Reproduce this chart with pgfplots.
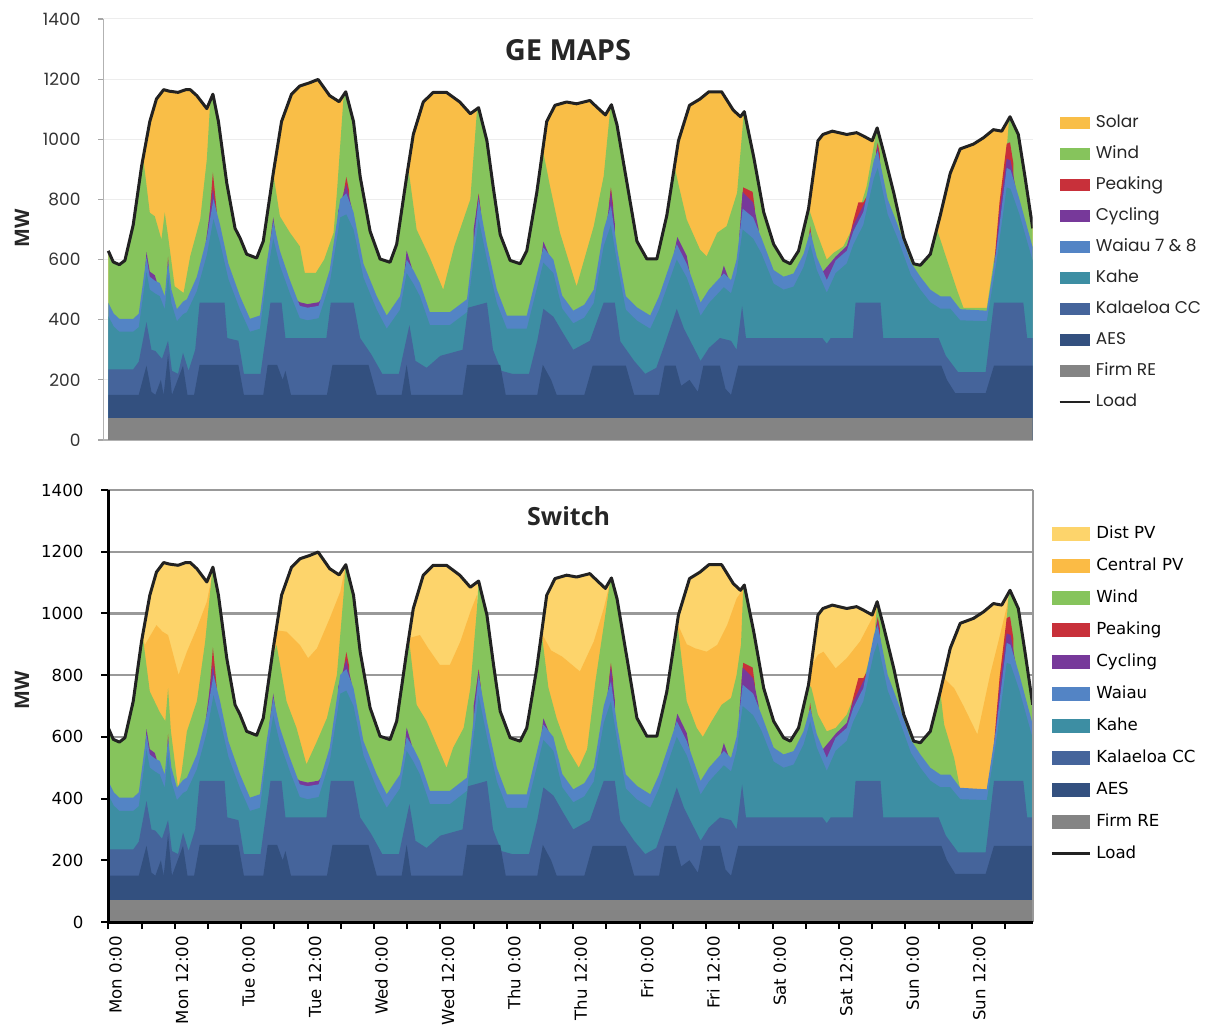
\documentclass[border=0pt]{standalone}
\usepackage{fontspec}
\setmainfont{DejaVu Sans}
\newfontfamily\topfont{Poppins}
\newfontfamily\ttlfont{Open Sans}
\usepackage{pgfplots}
\pgfplotsset{compat=1.18}
\usepackage{pgfplotstable}

\definecolor{solarc}{HTML}{F9BE47}
\definecolor{distc}{HTML}{FDD46B}
\definecolor{centc}{HTML}{FBBB45}
\definecolor{windc}{HTML}{86C45C}
\definecolor{peakc}{HTML}{C8303A}
\definecolor{cycc}{HTML}{77399A}
\definecolor{waic}{HTML}{5384C5}
\definecolor{kahec}{HTML}{3D8EA3}
\definecolor{kalc}{HTML}{45649B}
\definecolor{aesc}{HTML}{33507F}
\definecolor{firmc}{HTML}{848484}
\definecolor{loadc}{HTML}{222222}

\pgfplotsset{
  arealegA/.style={legend image code/.code={\fill[##1] (0pt,-3pt) rectangle (15pt,3pt);}},
  linelegA/.style={legend image code/.code={\draw[##1, line width=1.2pt] (0pt,0pt) -- (15pt,0pt);}},
  arealegB/.style={legend image code/.code={\fill[##1] (0pt,-3.5pt) rectangle (19pt,3.5pt);}},
  linelegB/.style={legend image code/.code={\draw[##1, line width=1.5pt] (0pt,0pt) -- (19pt,0pt);}},
}

\pgfplotstableread{
x y
0 629
0.9 592
2 583
3 597
4.5 715
6 909
7.5 1059
8.7 1134
10 1165
11 1160
12.6 1156
14 1165
14.8 1165
16 1145
17.8 1102
18.9 1150
19.9 1059
21.4 855
22.9 704
23.8 672
25 618
26.8 605
28 661
29.8 887
31.3 1059
33.1 1150
34.6 1177
36.4 1188
37.9 1199
40 1145
41.7 1125
42.9 1158
44.3 1059
45.5 876
47.3 694
49.1 602
50.9 591
52.1 651
53.9 876
55.1 1016
56.9 1124
58.7 1156
61.1 1156
63.5 1124
65.4 1085
66.9 1105
68.4 995
69.6 833
70.8 683
72.6 597
74.4 586
75.6 629
77.4 822
79.2 1059
80.7 1113
82.8 1124
84.6 1118
87 1129
88.2 1108
89.8 1081
90.9 1115
91.9 1048
93.7 855
95.5 661
97.3 602
99.1 602
100.9 747
103 995
105 1113
106.9 1134
108.5 1158
110.8 1158
112.9 1097
114.2 1075
114.9 1092
116.6 941
118.4 758
120.2 651
122 597
123.2 586
124.7 629
126.5 769
128.2 995
129.1 1016
130.8 1027
133.4 1016
135.2 1022
136.4 1011
138 995
138.9 1038
140 962
141.9 822
143.7 672
145.5 586
146.7 581
148.5 618
150.3 747
152.1 887
153.9 968
156.3 984
158.1 1005
159.9 1032
161.4 1027
162.9 1075
164.4 1016
165.6 876
167 704
}\loadT

\pgfplotstableread{
x y
0 629
0.9 592
2 583
3 597
4.5 715
6 909
6.3 940
7.5 756
8.4 744
9.6 667
10.2 756
10.8 678
12 511
13.6 489
14.8 611
16.6 733
17.8 933
18.4 1120
18.9 1150
19.9 1059
21.4 855
22.9 704
23.8 672
25 618
26.8 605
28 661
29.8 887
31 744
32.8 690
34.6 644
35.5 556
37.5 556
39 600
40.7 689
41.3 822
42.5 1140
42.9 1158
44.3 1059
45.5 876
47.3 694
49.1 602
50.9 591
52.1 651
53.9 876
54.2 905
55.7 700
58 610
60.5 500
62.5 644
65.4 800
66.6 1095
66.9 1105
68.4 995
69.6 833
70.8 683
72.6 597
74.4 586
75.6 629
77.4 822
78.5 965
79.8 844
81.6 689
84.6 511
87.7 711
89.5 878
90.7 1105
90.9 1115
91.9 1048
93.7 855
95.5 661
97.3 602
99.1 602
100.9 747
102.3 910
103 850
104.5 733
106.9 633
108.1 611
110 689
111.7 711
113.6 822
114.8 1088
114.9 1092
116.6 941
118.4 758
120.2 651
122 597
123.2 586
124.7 629
126.5 769
126.8 756
128 689
129.8 600
131 622
132.8 644
135.2 733
137 844
138.6 1011
138.9 1038
140 962
141.9 822
143.7 672
145.5 586
146.7 581
148.5 618
149.7 700
151.5 600
153.3 500
154.5 439
158.7 439
160 600
161.2 711
162.7 1060
162.9 1075
164.4 1016
165.6 876
167 704
}\windA

\pgfplotstableread{
x y
0 629
0.9 592
2 583
3 597
4.5 715
6 909
6.2 929
7.5 747
9.3 680
10.3 651
10.8 758
11.3 620
12.6 435
13.2 480
14.2 618
16 715
17.5 909
18.7 1125
18.9 1150
19.9 1059
21.4 855
22.9 704
23.8 672
25 618
26.8 605
28 661
29.5 849
30.4 898
32.2 715
34 629
35.8 511
37.7 586
39.5 661
41.3 801
42.5 1059
42.8 1150
42.9 1158
44.3 1059
45.5 876
47.3 694
49.1 602
50.9 591
52.1 651
53.9 876
54.3 920
55.7 704
57.5 651
59.3 575
61.1 500
62.3 565
64.2 629
65.4 758
66.6 1016
66.9 1105
68.4 995
69.6 833
70.8 683
72.6 597
74.4 586
75.6 629
77.4 822
78.3 935
79.5 760
81 660
83 560
85 500
86.5 560
88 780
89.5 960
90.6 1098
90.9 1115
91.9 1048
93.7 855
95.5 661
97.3 602
99.1 602
100.9 747
102.8 968
104.5 715
106.3 629
107.4 600
109 651
110.8 704
112.5 726
113.5 800
114.3 900
114.7 1080
114.9 1092
116.6 941
118.4 758
120.2 651
122 597
123.2 586
124.7 629
126.5 769
127 760
128.2 672
129.8 618
131.4 629
133.4 672
134.6 726
136.4 780
138.3 909
138.9 1030
140 962
141.9 822
143.7 672
145.5 586
146.7 581
148.5 618
150.3 747
151 640
152.8 532
153.9 430
158.7 430
160 565
161 694
162 909
162.6 1050
162.9 1075
164.4 1016
165.6 876
167 704
}\windB

\pgfplotstableread{
x y
0 0
6.0 0
6.2 929
6.6 898
8.7 962
9.8 941
10.8 930
12.7 801
14.2 876
16 952
17.8 1038
18.7 1120
18.9 0
29.3 0
29.5 849
30.4 945
32.2 941
34.6 898
36.1 855
37.7 887
40 984
41.9 1070
42.8 1150
42.95 0
54.1 0
54.3 920
56.3 930
57.8 887
59.9 833
61.7 833
63.6 909
65.4 1005
66.6 1060
66.8 0
78.1 0
78.3 935
80 880
82 860
84 830
85.2 812
87.7 909
89.5 1016
90.6 1098
90.75 0
102.6 0
102.8 968
104.5 900
106 887
108.1 876
110 898
111.8 962
113.5 1048
114.7 1080
114.85 0
126.3 0
126.5 769
127 830
128.2 866
129.2 876
131.4 822
133.4 855
135.8 909
138.3 995
138.9 1030
139.05 0
150.1 0
150.3 747
151 790
152.8 758
154.5 700
157 608
159.3 801
160.8 909
162.3 1020
162.6 1050
162.75 0
167 0
}\centT

\pgfplotstableread{
x y
0 0
10.3 0
10.35 470
10.8 610
11.2 480
11.25 0
17.9 0
18.0 680
18.9 890
19.6 760
19.65 0
42.4 0
42.5 820
43.0 875
43.5 830
43.55 0
66.4 0
66.5 760
66.9 820
67.3 760
67.35 0
90.4 0
90.5 790
90.8 840
91.2 780
91.25 0
114.3 0
114.4 780
114.7 840
116.4 825
116.8 770
116.85 0
126.2 0
126.3 640
126.8 710
127.3 640
127.35 0
133.5 0
133.6 650
134.6 730
135.5 790
136.4 790
137.0 810
137.05 0
138.6 0
138.7 960
139.0 988
139.4 950
139.45 0
159.9 0
160.0 575
161.0 790
162.3 985
162.9 990
163.5 920
163.55 0
167 0
}\peakT

\pgfplotstableread{
x y
0 0
6.0 0
6.1 430
6.9 625
7.5 560
8.4 548
9.2 500
9.25 0
17.4 0
17.5 640
18.9 835
20.0 700
20.05 0
29.0 0
29.1 640
29.8 740
30.6 640
30.65 0
33.5 0
33.6 470
34.6 458
36.0 452
38.0 458
39.0 480
39.05 0
41.4 0
41.5 760
43.0 850
44.0 770
44.05 0
53.3 0
53.4 540
53.9 630
54.8 575
54.85 0
65.9 0
66.0 700
66.9 815
67.7 700
67.75 0
78.1 0
78.2 600
78.6 660
79.5 620
79.55 0
90.1 0
90.2 740
90.8 830
91.5 720
91.55 0
102.1 0
102.2 620
102.8 675
104.5 612
105.0 560
105.05 0
110.5 0
110.6 540
111.2 580
112.0 540
112.05 0
113.9 0
114.0 680
114.6 825
116.5 790
117.5 700
117.55 0
129.0 0
129.1 560
130.5 590
131.4 610
133.4 645
134.6 715
136.4 780
137.0 800
137.05 0
138.4 0
138.5 935
139.0 975
139.6 900
139.65 0
159.9 0
160.0 560
161.0 760
162.3 935
163.0 930
164.0 830
164.05 0
167 0
}\cycT

\pgfplotstableread{
x y
0 457
1 420
2 403
4.5 403
5.5 420
6.9 608
7.5 543
8.4 530
9.3 522
10.2 478
10.8 597
11.4 500
12.4 435
13.5 460
14.2 468
16 543
17.8 672
19 801
20.2 715
21.7 586
23.8 478
25.6 403
27.4 414
28.6 586
29.8 726
31 629
32.8 532
34.6 446
36 440
38 446
40 565
41.9 801
43 820
44.3 758
46.1 586
48.5 478
50.3 414
52.7 478
53.9 600
55.1 565
56.3 522
58.1 425
61.7 425
64.8 468
66.9 801
68.4 651
70.2 500
72 414
75.6 414
78.6 640
80.4 600
82 480
84 430
86 450
87.7 500
89.5 700
90.8 780
92 629
93.5 478
95.5 441
97.9 414
99.5 478
102.7 651
104.5 586
107 457
108.5 500
111.2 554
112.5 532
113.5 600
114.6 769
116.5 740
118 672
120.2 565
122 543
123.8 554
125.6 618
126.8 694
128 608
129.8 532
131.4 597
133.4 629
134.6 694
136.4 758
138.3 930
139 962
140.8 801
142.6 715
145 590
146.7 543
148.5 500
150.3 478
152.1 478
153.9 435
158.7 430
160.4 629
162.3 905
163 898
164.6 801
167 640
}\waiT

\pgfplotstableread{
x y
0 412
1 377
2 360
4.5 360
5.5 375
6.9 560
7.5 500
8.4 488
9.3 478
10.2 435
10.8 550
11.4 455
12.4 395
13.5 418
14.2 425
16 495
17.8 615
19 735
20.2 655
21.7 535
23.8 433
25.6 360
27.4 370
28.6 540
29.8 670
31 580
32.8 488
34.6 405
36 398
38 405
40 520
41.9 740
43 750
44.3 700
46.1 540
48.5 433
50.3 370
52.7 433
53.9 555
55.1 520
56.3 478
58.1 382
61.7 382
64.8 425
66.9 735
68.4 600
70.2 455
72 370
75.6 370
78.6 590
80.4 555
82 437
84 388
86 407
87.7 455
89.5 645
90.8 715
92 580
93.5 433
95.5 397
97.9 370
99.5 433
102.7 600
104.5 540
107 413
108.5 455
111.2 508
112.5 488
113.5 555
114.6 700
116.5 670
118 620
120.2 520
122 500
123.8 510
125.6 575
126.8 650
128 565
129.8 490
131.4 555
133.4 587
134.6 650
136.4 715
138.3 870
139 905
140.8 750
142.6 670
145 548
146.7 500
148.5 458
150.3 437
152.1 437
153.9 398
158.7 395
160.4 585
162.3 840
163 835
164.6 750
167 595
}\kaheT

\pgfplotstableread{
x y
0 235
4.5 235
5.5 260
6.9 392
7.8 300
8.5 296
9.7 270
10.8 330
11.5 230
12.6 220
13.5 290
14.5 230
15.7 300
16.5 457
21 457
21.5 339
23.5 330
24.5 220
27.5 220
28.5 350
29.3 457
31.3 457
32 339
39.4 339
40.2 457
44.3 457
45.5 339
47.5 285
49.5 220
52.5 220
54.4 382
55.5 263
57.5 240
60 280
64 300
65 440
68.4 457
69.5 300
71 230
73 220
76 220
77.5 330
78.6 436
80.4 410
82 360
84 300
87 330
89.5 457
91.5 457
92.5 328
95 263
97 220
99 240
100.5 317
102.7 436
104 370
107 263
108.5 306
110.5 339
112.5 330
113.5 300
114.5 446
115.2 339
129 339
129.8 320
130.5 339
134.5 339
135 457
139.5 457
140 339
150 339
151.3 280
153.5 226
158.5 226
160 457
165.3 457
166 339
167 339
}\kalT

\pgfplotstableread{
x y
0 150
5.5 150
6.9 247
7.8 160
8.5 150
9.5 200
10 150
10.8 285
11.5 150
13.5 247
14.3 150
15.5 150
16.5 250
23.5 250
24.5 150
28 150
28.8 250
30.5 250
31.5 200
32 230
33 150
39.5 150
40.5 250
47 250
48.5 150
53 150
53.9 250
54.7 150
64 150
64.8 250
70.8 250
71.8 150
77.5 150
78.5 250
80 200
81 150
86 150
87.5 247
93.5 247
95 150
99.5 150
100.5 247
102.5 247
103.5 180
105 200
106.5 160
107.5 247
110.5 247
111.5 170
112.5 150
113.8 247
150.5 247
151.5 200
153 156
158.5 156
160 247
167 247
}\aesT

\pgfplotstableread{
x y
0 72
167 72
}\firmT

\begin{document}
\begin{tikzpicture}
\useasboundingbox (0,0) rectangle (606.5pt,-518pt);

% ---------------- GE MAPS ----------------
\begin{axis}[
  at={(51.65pt,-220pt)}, anchor=south west,
  scale only axis, width=464.7pt, height=210.5pt,
  xmin=-0.9, xmax=167, ymin=0, ymax=1400,
  ytick={0,200,...,1400}, xtick=\empty,
  axis x line*=bottom, axis y line*=left,
  axis line style={-, draw=black!30, line width=0.6pt},
  tick align=outside, major tick length=2.5pt,
  ytick style={draw=black!35, line width=0.6pt},
  ymajorgrids, grid style={draw=black!7, line width=0.5pt},
  /pgf/number format/assume math mode=true,
  /pgf/number format/1000 sep={},
  yticklabel style={font=\topfont\fontsize{8.5}{10}\selectfont, text=black!80, xshift=-5.4pt},
  clip mode=individual,
  legend cell align=left,
  legend style={at={(1.0208,0.788)}, anchor=north west, draw=none, fill=none,
    font=\topfont\fontsize{8.5}{10}\selectfont, text=black!85,
    row sep=5pt, column sep=1.5pt,
    nodes={inner sep=1pt, text height=6.5pt, text depth=2pt}},
  arealegA,
]
\addplot[fill=solarc, draw=none] table {\loadT} \closedcycle;
\addplot[fill=windc, draw=none] table {\windA} \closedcycle;
\addplot[fill=peakc, draw=none] table {\peakT} \closedcycle;
\addplot[fill=cycc, draw=none] table {\cycT} \closedcycle;
\addplot[fill=waic, draw=none] table {\waiT} \closedcycle;
\addplot[fill=kahec, draw=none] table {\kaheT} \closedcycle;
\addplot[fill=kalc, draw=none] table {\kalT} \closedcycle;
\addplot[fill=aesc, draw=none] table {\aesT} \closedcycle;
\addplot[fill=firmc, draw=none] table {\firmT} \closedcycle;
\addplot[draw=loadc, line width=1.5pt, line join=round, linelegA] table {\loadT};
\legend{Solar, Wind, Peaking, Cycling, Waiau 7 \& 8, Kahe, Kalaeloa CC, AES, Firm RE, Load}
\node[font=\ttlfont\bfseries\fontsize{14.5}{16}\selectfont, text=black!85] at (rel axis cs:0.5,0.926) {GE MAPS};
\node[rotate=90, font=\ttlfont\bfseries\fontsize{10}{12}\selectfont, text=black!85] at (rel axis cs:-0.0875,0.5036) {MW};
\end{axis}

% ---------------- Switch ----------------
\begin{axis}[
  at={(54.15pt,-461pt)}, anchor=south west,
  scale only axis, width=462.2pt, height=216pt,
  xmin=0, xmax=167, ymin=0, ymax=1400,
  ytick={0,200,...,1400},
  xtick={0,12,...,156},
  xticklabels={Mon 0:00,Mon 12:00,Tue 0:00,Tue 12:00,Wed 0:00,Wed 12:00,Thu 0:00,Thu 12:00,Fri 0:00,Fri 12:00,Sat 0:00,Sat 12:00,Sun 0:00,Sun 12:00},
  minor xtick={6,18,...,162},
  axis x line*=bottom, axis y line*=left,
  axis line style={-, draw=black, line width=1.5pt},
  tick align=outside, major tick length=3.5pt, minor tick length=3.5pt,
  tick style={draw=black, line width=1pt},
  ymajorgrids, grid style={draw=black!40, line width=1.1pt},
  /pgf/number format/assume math mode=true,
  /pgf/number format/1000 sep={},
  yticklabel style={font=\fontsize{8.3}{10}\selectfont, text=black, xshift=-5.4pt},
  xticklabel style={font=\fontsize{8.3}{10}\selectfont, text=black, rotate=90, anchor=east, yshift=-3.7pt},
  clip mode=individual,
  legend cell align=left,
  legend style={at={(1.0122,0.933)}, anchor=north west, draw=none, fill=none,
    font=\fontsize{8.3}{10}\selectfont, text=black,
    row sep=5.5pt, column sep=1.5pt,
    nodes={inner sep=1pt, text height=6.5pt, text depth=2pt}},
  arealegB,
]
\addplot[fill=distc, draw=none] table {\loadT} \closedcycle;
\addplot[fill=centc, draw=none] table {\centT} \closedcycle;
\addplot[fill=windc, draw=none] table {\windB} \closedcycle;
\addplot[fill=peakc, draw=none] table {\peakT} \closedcycle;
\addplot[fill=cycc, draw=none] table {\cycT} \closedcycle;
\addplot[fill=waic, draw=none] table {\waiT} \closedcycle;
\addplot[fill=kahec, draw=none] table {\kaheT} \closedcycle;
\addplot[fill=kalc, draw=none] table {\kalT} \closedcycle;
\addplot[fill=aesc, draw=none] table {\aesT} \closedcycle;
\addplot[fill=firmc, draw=none] table {\firmT} \closedcycle;
\addplot[draw=loadc, line width=1.5pt, line join=round, linelegB] table {\loadT};
\legend{Dist PV, Central PV, Wind, Peaking, Cycling, Waiau, Kahe, Kalaeloa CC, AES, Firm RE, Load}
\draw[black!40, line width=1.1pt] (rel axis cs:1,0) -- (rel axis cs:1,1);
\draw[black, line width=1.5pt] (rel axis cs:0,1) -- (rel axis cs:0,0) -- (rel axis cs:1,0);
\node[font=\ttlfont\bfseries\fontsize{12.5}{14}\selectfont, text=black!85] at (rel axis cs:0.498,0.94) {Switch};
\node[rotate=90, font=\ttlfont\bfseries\fontsize{10}{12}\selectfont, text=black!85] at (rel axis cs:-0.0934,0.537) {MW};
\end{axis}
\end{tikzpicture}
\end{document}
